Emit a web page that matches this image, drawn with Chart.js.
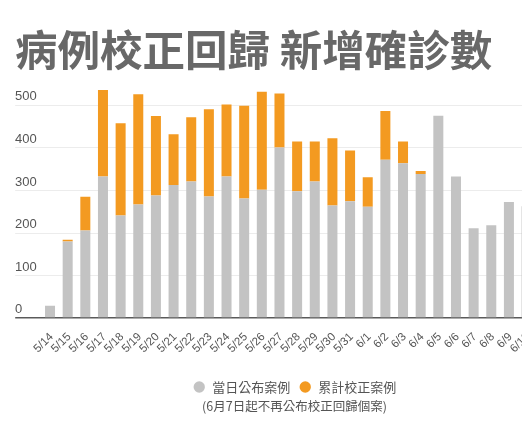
<!DOCTYPE html>
<html>
<head>
<meta charset="utf-8">
<script src="https://cdn.jsdelivr.net/npm/chart.js@4"></script>
<style>
  html, body { margin: 0; padding: 0; background: #fff; overflow: hidden; }
  #wrap { position: absolute; left: 0; top: 0; width: 574px; height: 424px; }
</style>
</head>
<body>
<div id="wrap"><canvas id="c"></canvas></div>
<script>
const categories = ['5/14','5/15','5/16','5/17','5/18','5/19','5/20','5/21','5/22','5/23','5/24','5/25','5/26','5/27','5/28','5/29','5/30','5/31','6/1','6/2','6/3','6/4','6/5','6/6','6/7','6/8','6/9','6/10'];
const dailyCases = [29,180,206,333,241,267,288,313,321,286,333,281,302,401,298,321,265,275,262,372,364,339,476,333,211,218,273,263];
const correctedCases = [0,4,79,203,217,259,187,119,151,205,169,218,230,127,117,94,158,119,69,115,51,7,0,0,0,0,0,0];
const yTicks = [0,100,200,300,400,500];
const seriesNames = ['當日公布案例','累計校正案例'];
const titleText = '病例校正回歸 新增確診數';
const noteText = '(6月7日起不再公布校正回歸個案)';

const GRAY = '#c3c3c3';
const ORANGE = '#f39a21';
const CJK = "'Noto Sans CJK TC', 'Noto Sans CJK SC', sans-serif";
const LAT = "'Liberation Sans', Arial, sans-serif";

new Chart(document.getElementById('c'), {
  type: 'bar',
  data: {
    labels: categories,
    datasets: [
      { label: seriesNames[0], data: dailyCases, backgroundColor: GRAY, borderWidth: 0,
        barPercentage: 0.9, categoryPercentage: 0.63 },
      { label: seriesNames[1], data: correctedCases, backgroundColor: ORANGE, borderWidth: 0,
        barPercentage: 0.9, categoryPercentage: 0.63 }
    ]
  },
  options: {
    responsive: true,
    maintainAspectRatio: false,
    animation: false,
    layout: { padding: { left: 15, right: 0, top: 0, bottom: 0 } },
    scales: {
      x: {
        stacked: true,
        grid: { display: false },
        border: { display: false },
        ticks: {
          autoSkip: false, minRotation: 45, maxRotation: 45,
          color: '#555', padding: 4, labelOffset: 1.5,
          font: { family: LAT, size: 11.5 }
        },
        afterFit: s => { s.height = 53.9; }
      },
      y: {
        stacked: true,
        min: 0, max: 560,
        afterBuildTicks: s => { s.ticks = yTicks.map(v => ({ value: v })); },
        grid: {
          color: ctx => (ctx.tick && ctx.tick.value === 0) ? '#5a5a5a' : '#ececec',
          lineWidth: ctx => (ctx.tick && ctx.tick.value === 0) ? 1.5 : 1,
          drawTicks: true, tickLength: 26
        },
        border: { display: false },
        ticks: {
          crossAlign: 'far', padding: 0, labelOffset: -8.5,
          color: '#555', font: { family: LAT, size: 13 }
        },
        afterFit: s => { s.width = 26.2; }
      },
      yR: {
        type: 'linear', position: 'right', display: true,
        grid: { display: false, drawOnChartArea: false },
        border: { display: false },
        ticks: { display: false },
        afterFit: s => { s.width = 38.6; }
      }
    },
    plugins: {
      title: {
        display: true, text: titleText, align: 'start',
        color: '#686868',
        font: { family: CJK, size: 42.5, weight: 'bold', lineHeight: 1.2 },
        padding: { top: 24.5, bottom: 4.4 }
      },
      legend: {
        position: 'bottom',
        labels: {
          usePointStyle: true, pointStyle: 'circle',
          boxWidth: 13, boxHeight: 8, padding: 8.5,
          color: '#555', font: { family: CJK, size: 13 }
        }
      },
      subtitle: {
        display: true, position: 'bottom', text: noteText,
        color: '#555', font: { family: CJK, size: 12.5, lineHeight: 1.2 },
        padding: { top: -5, bottom: 10.5 }
      },
      tooltip: { enabled: false }
    }
  }
});
</script>
</body>
</html>
